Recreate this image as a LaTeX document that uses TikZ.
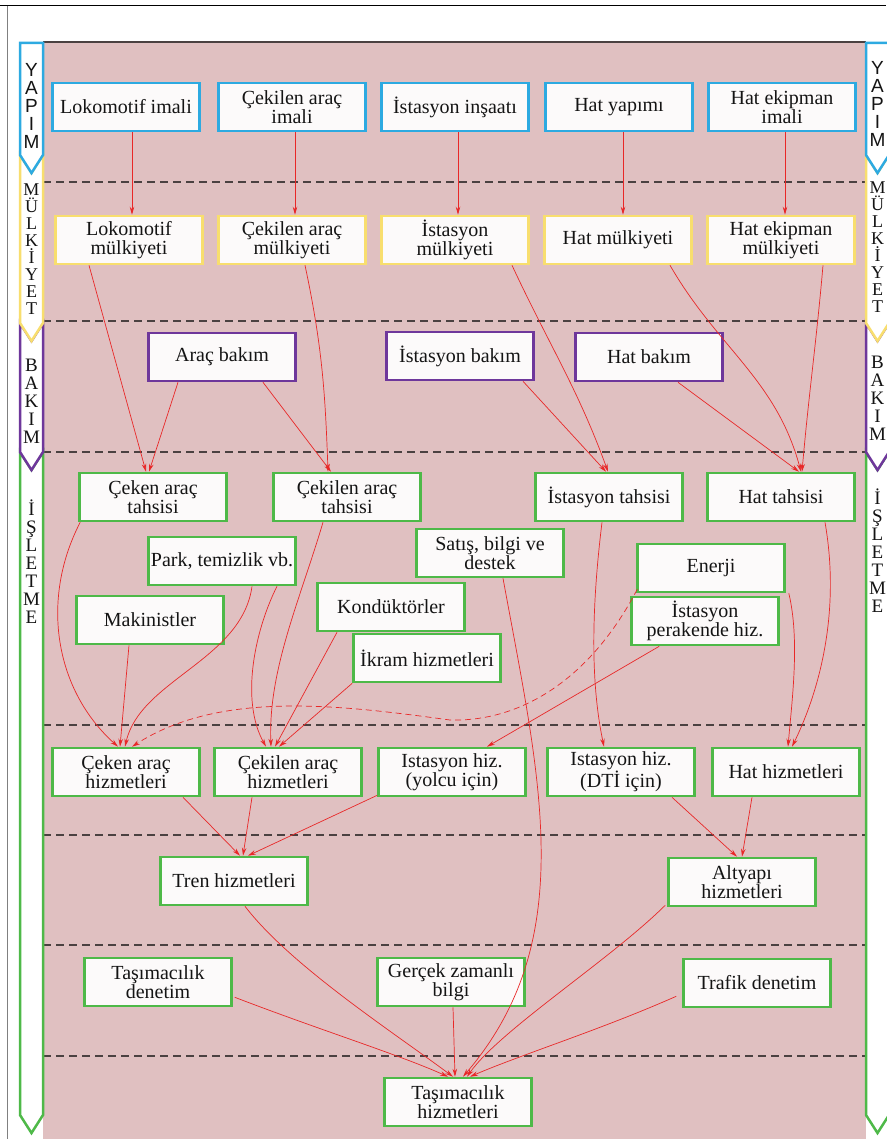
\documentclass[tikz,border=0pt]{standalone}
\usepackage{fontspec}
\setmainfont{Liberation Serif}
\newfontfamily\sidesans{Liberation Sans}
\usetikzlibrary{arrows.meta,calc}
\definecolor{bgpink}{RGB}{224,192,193}
\definecolor{cyanb}{RGB}{45,170,225}
\definecolor{yelb}{RGB}{248,222,110}
\definecolor{purb}{RGB}{110,55,155}
\definecolor{grnb}{RGB}{78,185,72}
\definecolor{arrred}{RGB}{232,40,40}
\definecolor{dashgray}{RGB}{75,65,65}
\definecolor{boxfill}{RGB}{252,250,250}
\definecolor{txt}{RGB}{20,20,20}
\begin{document}
\begin{tikzpicture}[x=1pt,y=-1pt,
  box/.style={draw, line width=2.6pt, fill=boxfill, minimum width=147pt, minimum height=48pt,
    inner sep=1pt, align=center, text=txt, font=\fontsize{20}{19}\selectfont},
  bY/.style={box, draw=cyanb},
  bM/.style={box, draw=yelb},
  bB/.style={box, draw=purb},
  bI/.style={box, draw=grnb},
  arr/.style={draw=arrred, line width=0.7pt, -{Stealth[length=8pt,width=4.5pt]}},
  darr/.style={arr, dash pattern=on 6pt off 4pt},
  sepline/.style={draw=dashgray, line width=1.2pt, dash pattern=on 8pt off 5pt},
  seg/.style={fill=white, line width=2.5pt, line join=miter},
  slbl/.style={align=center, inner sep=0pt, text=txt, font=\fontsize{19}{18}\selectfont},
]
\useasboundingbox (0,0) rectangle (886,1139);
\fill[white] (0,0) rectangle (886,1139);
\draw[black, line width=1pt] (0,6) -- (886,6);
\draw[gray, line width=0.8pt] (7,6) -- (7,1139);
% pink panel
\fill[bgpink] (43,42) rectangle (866,1139);
\draw[dashgray, line width=1.2pt] (43,42) -- (866,42);
% separators
\foreach \yy in {182,321,452,725,835,945,1056}
  \draw[sepline] (43,\yy) -- (866,\yy);

% side bars
\foreach \L/\R/\M in {20/43/31.5, 866/889/877.5}{
  \draw[seg, draw=grnb] (\L,452) -- (\M,470) -- (\R,452) -- (\R,1115) -- (\M,1133) -- (\L,1115) -- cycle;
  \draw[seg, draw=purb] (\L,323) -- (\M,341) -- (\R,323) -- (\R,452) -- (\M,470) -- (\L,452) -- cycle;
  \draw[seg, draw=yelb] (\L,155) -- (\M,173) -- (\R,155) -- (\R,323) -- (\M,341) -- (\L,323) -- cycle;
  \draw[seg, draw=cyanb] (\L,43) -- (\R,43) -- (\R,155) -- (\M,173) -- (\L,155) -- cycle;
}
\node[slbl, font=\sidesans\fontsize{19}{18}\selectfont] (ly) at (31.5,106) {Y\\A\\P\\I\\M};
\node[slbl, font=\fontsize{18}{17}\selectfont] (lm) at (31.5,249) {M\\Ü\\L\\K\\İ\\Y\\E\\T};
\node[slbl] (lb) at (31.5,401) {B\\A\\K\\I\\M};
\node[slbl] (li) at (31.5,562) {İ\\Ş\\L\\E\\T\\M\\E};
\node[slbl, font=\sidesans\fontsize{19}{18}\selectfont] (ry) at (877.5,104) {Y\\A\\P\\I\\M};
\node[slbl, font=\fontsize{18}{17}\selectfont] (rm) at (877.5,247) {M\\Ü\\L\\K\\İ\\Y\\E\\T};
\node[slbl] (rb) at (877.5,398) {B\\A\\K\\I\\M};
\node[slbl] (ri) at (877.5,551) {İ\\Ş\\L\\E\\T\\M\\E};

% row 1
\node[bY] (a1) at (126,107) {Lokomotif imali};
\node[bY] (a2) at (292,107) {Çekilen araç\\imali};
\node[bY] (a3) at (455,107) {İstasyon inşaatı};
\node[bY] (a4) at (619,107) {Hat yapımı};
\node[bY] (a5) at (782,107) {Hat ekipman\\imali};
% row 2
\node[bM] (b1) at (129,240) {Lokomotif\\mülkiyeti};
\node[bM] (b2) at (292,240) {Çekilen araç\\mülkiyeti};
\node[bM] (b3) at (455,240) {İstasyon\\mülkiyeti};
\node[bM] (b4) at (618,240) {Hat mülkiyeti};
\node[bM] (b5) at (781,240) {Hat ekipman\\mülkiyeti};
% row 3
\node[bB] (c1) at (222,357) {Araç bakım};
\node[bB] (c2) at (460,356) {İstasyon bakım};
\node[bB] (c3) at (649,357) {Hat bakım};
% row 4
\node[bI] (d1) at (153,497) {Çeken araç\\tahsisi};
\node[bI] (d2) at (347,497) {Çekilen araç\\tahsisi};
\node[bI] (d3) at (609,497) {İstasyon tahsisi};
\node[bI] (d4) at (781,497) {Hat tahsisi};
\node[bI] (d5) at (222,561) {Park, temizlik vb.};
\node[bI] (d6) at (150,620) {Makinistler};
\node[bI] (d7) at (490,553) {Satış, bilgi ve\\destek};
\node[bI] (d8) at (391,607) {Kondüktörler};
\node[bI] (d9) at (427,658) {İkram hizmetleri};
\node[bI] (d10) at (711,568) {Enerji};
\node[bI] (d11) at (705,621) {İstasyon\\perakende hiz.};
% row 5
\node[bI] (e1) at (126,772) {Çeken araç\\hizmetleri};
\node[bI] (e2) at (288,772) {Çekilen araç\\hizmetleri};
\node[bI] (e3) at (452,772) {Istasyon hiz.\\(yolcu için)};
\node[bI] (e4) at (621,772) {Istasyon hiz.\\(DTİ için)};
\node[bI] (e5) at (786,772) {Hat hizmetleri};
% row 6
\node[bI] (f1) at (234,881) {Tren hizmetleri};
\node[bI] (f2) at (742,882) {Altyapı\\hizmetleri};
% row 7
\node[bI] (g1) at (158,982) {Taşımacılık\\denetim};
\node[bI] (g2) at (451,982) {Gerçek zamanlı\\bilgi};
\node[bI] (g3) at (757,983) {Trafik denetim};
\node[bI] (h) at (458,1102) {Taşımacılık\\hizmetleri};

% connectors row1 -> row2
\draw[arr] ($(a1.south)+(6,0)$) -- ($(b1.north)+(3,0)$);
\draw[arr] ($(a2.south)+(3,0)$) -- ($(b2.north)+(3,0)$);
\draw[arr] ($(a3.south)+(3,0)$) -- ($(b3.north)+(3,0)$);
\draw[arr] ($(a4.south)+(4,0)$) -- ($(b4.north)+(5,0)$);
\draw[arr] ($(a5.south)+(3,0)$) -- ($(b5.north)+(4,0)$);
% row2/3 -> row4
\draw[arr] ($(b1.south)+(-40,0)$) -- ($(d1.north)+(-7,0)$);
\draw[arr] ($(c1.south)+(-44,0)$) -- ($(d1.north)+(-4,0)$);
\draw[arr] ($(b2.south)+(13,0)$) to[out=-78,in=92] ($(d2.north)+(-19,0)$);
\draw[arr] ($(c1.south)+(41,0)$) -- ($(d2.north)+(-16,0)$);
\draw[arr] ($(b3.south)+(57,0)$) to[out=-65,in=110] ($(d3.north)+(-1,0)$);
\draw[arr] ($(c2.south)+(63,0)$) -- ($(d3.north)+(-3,0)$);
\draw[arr] ($(b4.south)+(52,0)$) to[out=-60,in=105] ($(d4.north)+(20,0)$);
\draw[arr] ($(b5.south)+(42,0)$) to[out=-95,in=85] ($(d4.north)+(21,0)$);
\draw[arr] ($(c3.south)+(29,0)$) -- ($(d4.north)+(18,0)$);
% row4 -> row5
\draw[arr] ($(d1.south west)+(2,0)$) .. controls (40,600) and (55,690) .. ($(e1.north)+(-8,0)$);
\draw[arr] ($(d6.south)+(-21,0)$) -- ($(e1.north)+(-6,0)$);
\draw[arr] ($(d5.south)+(30,0)$) .. controls (242,660) and (140,680) .. ($(e1.north)+(-1,0)$);
\draw[darr] ($(d10.south west)+(1,-4)$) .. controls (590,680) and (520,722) .. (450,720)
   .. controls (340,705) and (220,690) .. ($(e1.north)+(6,0)$);
\draw[arr] ($(d5.south)+(55,0)$) .. controls (255,630) and (240,700) .. ($(e2.north)+(-22,0)$);
\draw[arr] ($(d2.south)+(-24,0)$) .. controls (300,600) and (268,670) .. ($(e2.north)+(-17,0)$);
\draw[arr] ($(d8.south)+(-54,0)$) -- ($(e2.north)+(-13,0)$);
\draw[arr] (d9.south west) -- ($(e2.north)+(-9,0)$);
\draw[arr] ($(d7.south)+(13,0)$) .. controls (540,780) and (580,940) .. ($(h.north)+(5,0)$);
\draw[arr] ($(d11.south west)+(29,0)$) -- ($(e3.north)+(35,0)$);
\draw[arr] ($(d3.south)+(-7,0)$) .. controls (590,620) and (592,690) .. ($(e4.north)+(-17,0)$);
\draw[arr] ($(d10.south east)+(3,0)$) .. controls (800,640) and (792,700) .. ($(e5.north)+(2,0)$);
\draw[arr] ($(d4.south)+(44,0)$) .. controls (842,620) and (815,700) .. ($(e5.north)+(6,0)$);
% row5 -> row6
\draw[arr] ($(e1.south)+(57,0)$) -- ($(f1.north)+(6,0)$);
\draw[arr] ($(e2.south)+(-36,0)$) -- ($(f1.north)+(9,0)$);
\draw[arr] ($(e3.south west)+(0,-2)$) -- ($(f1.north)+(14,0)$);
\draw[arr] ($(e4.south)+(51,0)$) -- ($(f2.north)+(-5,0)$);
\draw[arr] ($(e5.south)+(-34,0)$) -- (f2.north);
% -> final
\draw[arr] ($(f1.south)+(11,0)$) .. controls (290,965) and (390,1030) .. ($(h.north)+(-5,0)$);
\draw[arr] ($(f2.south west)+(-2,-2)$) .. controls (610,960) and (500,1030) .. ($(h.north)+(9,0)$);
\draw[arr] ($(g1.south east)+(2,-10)$) .. controls (320,1030) and (400,1055) .. ($(h.north)+(-10,0)$);
\draw[arr] ($(g2.south)+(2,0)$) -- ($(h.north)+(-3,0)$);
\draw[arr] ($(g3.south west)+(-6,-12)$) .. controls (600,1030) and (520,1055) .. ($(h.north)+(12,0)$);
\end{tikzpicture}
\end{document}
